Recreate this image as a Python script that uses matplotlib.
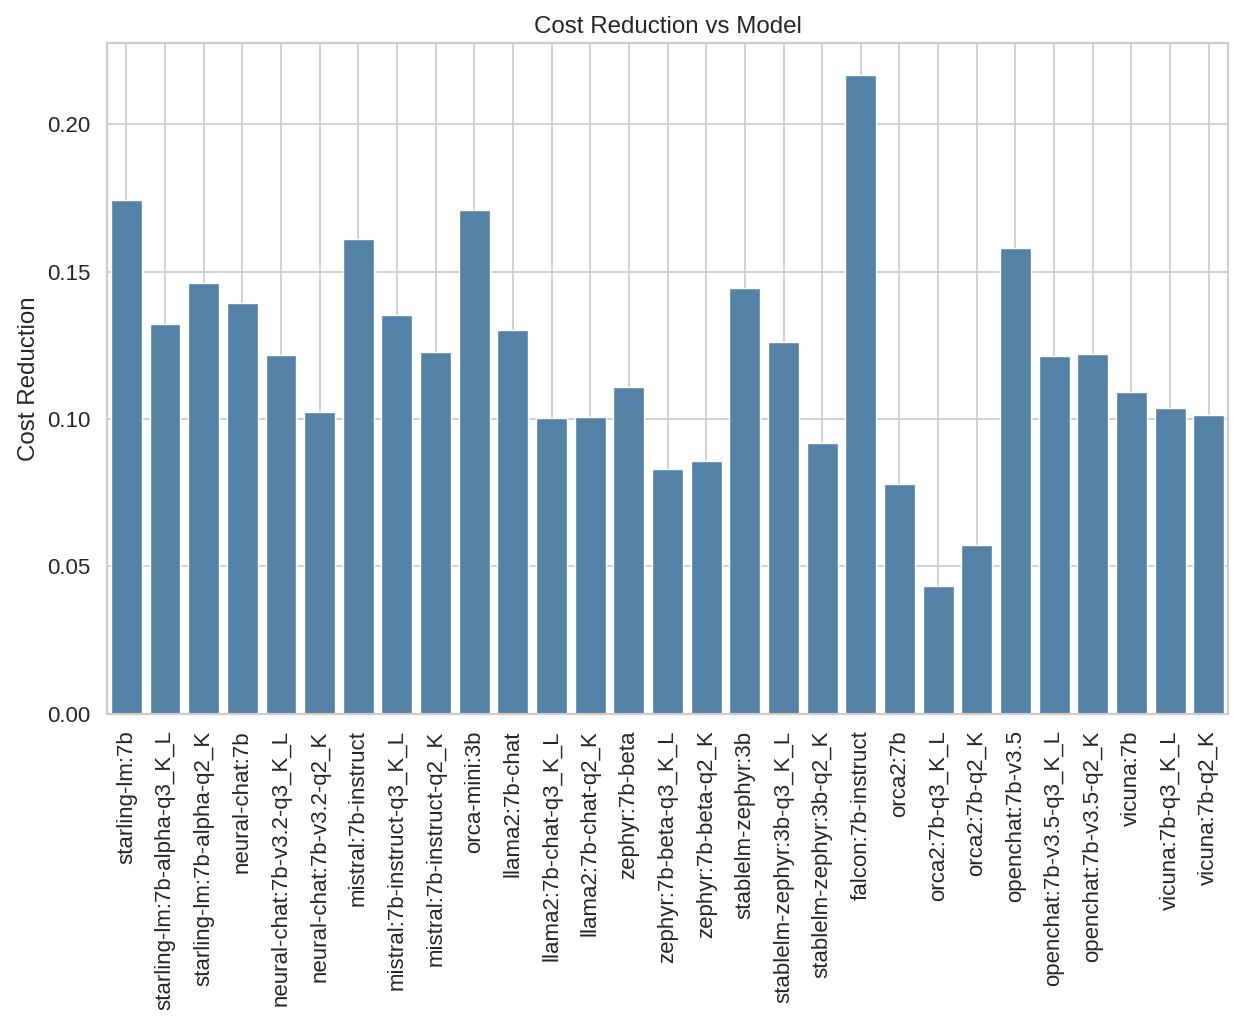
import numpy as np
import matplotlib
matplotlib.use("Agg")
import matplotlib.pyplot as plt
import seaborn as sns

models = [
    "starling-lm:7b", "starling-lm:7b-alpha-q3_K_L", "starling-lm:7b-alpha-q2_K",
    "neural-chat:7b", "neural-chat:7b-v3.2-q3_K_L", "neural-chat:7b-v3.2-q2_K",
    "mistral:7b-instruct", "mistral:7b-instruct-q3_K_L", "mistral:7b-instruct-q2_K",
    "orca-mini:3b", "llama2:7b-chat", "llama2:7b-chat-q3_K_L", "llama2:7b-chat-q2_K",
    "zephyr:7b-beta", "zephyr:7b-beta-q3_K_L", "zephyr:7b-beta-q2_K",
    "stablelm-zephyr:3b", "stablelm-zephyr:3b-q3_K_L", "stablelm-zephyr:3b-q2_K",
    "falcon:7b-instruct", "orca2:7b", "orca2:7b-q3_K_L", "orca2:7b-q2_K",
    "openchat:7b-v3.5", "openchat:7b-v3.5-q3_K_L", "openchat:7b-v3.5-q2_K",
    "vicuna:7b", "vicuna:7b-q3_K_L", "vicuna:7b-q2_K",
]
cost_reduction = [
    0.1742, 0.1321, 0.1460,
    0.1392, 0.1216, 0.1025,
    0.1610, 0.1353, 0.1226,
    0.1708, 0.1301, 0.1005, 0.1008,
    0.1107, 0.0832, 0.0859,
    0.1443, 0.1260, 0.0920,
    0.2166, 0.0778, 0.0435, 0.0574,
    0.1579, 0.1212, 0.1219,
    0.1090, 0.1037, 0.1012,
]

sns.set_theme(style="whitegrid")
plt.rcParams['font.family'] = ['Liberation Sans', 'DejaVu Sans']

fig, ax = plt.subplots(figsize=(1246 / 125, 1027 / 125), dpi=125)
x = np.arange(len(models))
ax.bar(x, cost_reduction, width=0.8, color=sns.desaturate("steelblue", 0.75),
       edgecolor="white", linewidth=0.8, zorder=2)
ax.set_axisbelow(True)
ax.grid(True, axis='both')
ax.set_xlim(-0.5, len(models) - 0.5)
ax.set_xticks(x)
ax.set_xticklabels(models, rotation=90, fontsize=12.8)
ax.tick_params(axis='y', labelsize=12.8)
ax.set_title("Cost Reduction vs Model", fontsize=13.9)
ax.set_ylabel("Cost Reduction", fontsize=13.9)
fig.subplots_adjust(left=0.0859, right=0.9856, top=0.958, bottom=0.3048)
fig.savefig("out.png", dpi=125)
